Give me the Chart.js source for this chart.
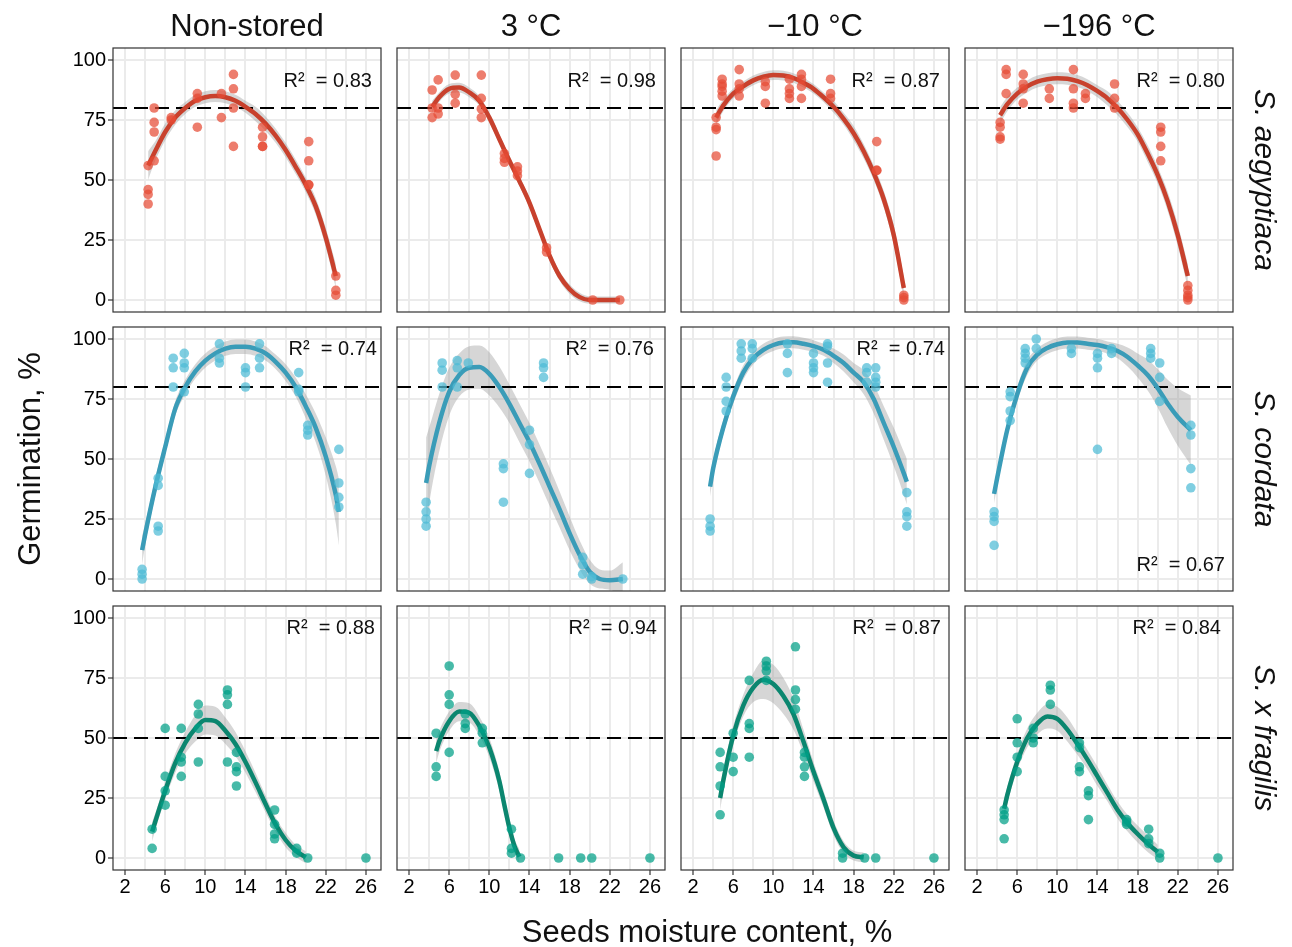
<!DOCTYPE html>
<html lang="en">
<head>
<meta charset="UTF-8" />
<title>Germination vs seed moisture content</title>
<script src="https://cdn.jsdelivr.net/npm/chart.js@4.4.1/dist/chart.umd.min.js"></script>
<style>
  body { margin: 0; background: #fff; }
  #figure { position: relative; width: 1292px; height: 947px; overflow: hidden;
            font-family: "Liberation Sans", Arial, sans-serif; color: #111; }
  #figure canvas { position: absolute; }
  .lbl { position: absolute; white-space: pre; line-height: 1; }
</style>
</head>
<body>
<div id="figure"></div>

<script>
// axes
const moistTicks = [2, 4, 6, 8, 10, 12, 14, 16, 18, 20, 22, 24, 26];
const moistLabels = [2, 6, 10, 14, 18, 22, 26];
const germTicks = [0, 25, 50, 75, 100];

const storages = ['Non-stored', '3 °C', '−10 °C', '−196 °C'];
const species = ['S. aegyptiaca', 'S. cordata', 'S. x fragilis'];
const thresholds = [80, 80, 50];

const r2Aeg = ['0.83', '0.98', '0.87', '0.80'];
const r2Cor = ['0.74', '0.76', '0.74', '0.67'];
const r2Fra = ['0.88', '0.94', '0.87', '0.84'];

// observations: [moisture %, germination %]
// fitted curves: [moisture %, lower CI, fit, upper CI]

// S. aegyptiaca
const aegNonPts = [[4.3,56],[4.3,46],[4.3,44],[4.3,40],[4.9,80],[4.9,74],[4.9,70],[4.9,58],[6.6,76],[6.6,75],
  [9.2,86],[9.2,84],[9.2,72],[11.6,86],[11.6,76],[12.8,94],[12.8,88],[12.8,80],[12.8,64],[15.7,72],[15.7,68],
  [15.7,64],[15.7,64],[20.3,66],[20.3,58],[20.3,48],[20.3,48],[23.0,10],[23.0,4],[23.0,2]];
const aegNonFit = [[4.3,50,56,62],[5,58,62,66],[6,66.5,70,73.5],[7,73,76,79],[8,77.5,80,82.5],[9,80.5,83,85.5],
  [10,82,84.5,87],[11,82.5,85,87.5],[12,82,84.5,87],[13,80.5,83,85.5],[14,78,80.5,83],[15,74.5,77.5,80.5],
  [16,70.5,73.5,76.5],[17,65.5,68.5,71.5],[18,59.5,62.5,65.5],[19,52.5,55.5,58.5],[20,45,48,51],
  [21,35.5,39,42.5],[22,22,26,30],[23,5,10,15]];

const aeg3Pts = [[4.3,87.5],[4.3,80],[4.3,76],[4.9,91.7],[4.9,80],[4.9,77.5],[6.6,93.7],[6.6,85.7],[6.6,82],
  [9.2,93.7],[9.2,84],[9.2,79.6],[9.2,76],[11.5,61],[11.5,59],[11.5,57.4],[12.8,55.5],[12.8,53.7],[12.8,51.8],
  [15.7,21.8],[15.7,20],[20.3,0],[23.0,0]];
const aeg3Fit = [[4.3,78,80.5,83],[5,82.5,84.5,86.5],[6,86,88,90],[7,86.5,88.5,90.5],[8,84.5,86.5,88.5],
  [9,81,83,85],[10,74,76,78],[11,65,67,69],[12,56,58,60],[13,47.5,49.5,51.5],[14,38.5,40.5,42.5],
  [15,27.5,29.5,31.5],[16,16.5,18.5,20.5],[17,8,10,12],[18,2.5,4.5,6.5],[19,-0.5,1.2,3],[20,-1.5,0,1.5],
  [21,-1.5,0,1.5],[22,-1.5,0,1.5],[23,-1.5,0,1.5]];

const aegM10Pts = [[4.3,76],[4.3,72],[4.3,71],[4.3,60],[4.9,92],[4.9,90],[4.9,89],[4.9,87],[4.9,85],[6.6,96],
  [6.6,90],[6.6,88],[6.6,85],[9.2,91],[9.2,89],[9.2,82],[11.6,92],[11.6,88],[11.6,86],[11.6,84],[12.8,94],
  [12.8,92],[12.8,89],[12.8,84],[15.7,92],[15.7,86],[15.7,84],[20.3,66],[20.3,54],[20.3,54],[23.0,2],
  [23.0,1],[23.0,0]];
const aegM10Fit = [[4.3,73,76,79],[5,78.5,81,83.5],[6,84,86,88],[7,87,89,91],[8,89.5,91.5,93.5],[9,91,93,95],
  [10,91.7,93.7,95.7],[11,91.5,93.5,95.5],[12,90.5,92.5,94.5],[13,88.5,90.5,92.5],[14,86,88,90],
  [15,82.5,84.5,86.5],[16,78,80.5,83],[17,73,75.5,78],[18,66.5,69.5,72.5],[19,59,62,65],[20,50,53,56],
  [21,38.5,42,45.5],[22,23,27,31],[23,0.5,5,9.5]];

const aegM196Pts = [[4.3,74],[4.3,72],[4.3,68],[4.3,67],[4.9,96],[4.9,94],[4.9,86],[6.6,94],[6.6,90],[6.6,88],
  [6.6,82],[9.2,88],[9.2,84],[11.6,96],[11.6,88],[11.6,82],[11.6,80],[12.8,86],[12.8,84],[15.7,90],[15.7,84],
  [15.7,80],[20.3,72],[20.3,70],[20.3,64],[20.3,58],[23.0,6],[23.0,4],[23.0,2],[23.0,1],[23.0,0]];
const aegM196Fit = [[4.3,73.5,77,80.5],[5,78.5,81.5,84.5],[6,83.5,86,88.5],[7,86.5,89,91.5],[8,88.5,91,93.5],
  [9,89.5,92,94.5],[10,89.9,92.4,94.9],[11,89.7,92.2,94.7],[12,88.7,91.2,93.7],[13,87,89.5,92],
  [14,84.5,87,89.5],[15,81,84,87],[16,77,80,83],[17,72,75,78],[18,66,69,72],[19,57.5,61,64.5],
  [20,48.5,52,55.5],[21,37,41,45],[22,22.5,27,31.5],[23,5,10,15]];

// S. cordata
const corNonPts = [[3.7,4],[3.7,2],[3.7,0],[5.3,42],[5.3,39],[5.3,22],[5.3,20],[6.8,92],[6.8,88],[6.8,80],
  [7.9,94],[7.9,90],[7.9,88],[7.9,78],[11.4,98],[11.4,92],[11.4,90],[14.0,88],[14.0,86],[14.0,80],[15.4,98],
  [15.4,92],[15.4,88],[19.3,86],[19.3,79],[19.3,78],[20.2,64],[20.2,62],[20.2,60],[23.3,54],[23.3,40],
  [23.3,34],[23.3,30]];
const corNonFit = [[3.7,6,12,18],[4,14,18.5,23],[5,34.5,38,41.5],[6,52,55,58],[7,68,71,74],[8,77,80,83],
  [9,83.5,86.5,89.5],[10,88,91,94],[11,91,94,97],[12,93,96,99],[13,93.8,96.8,99.8],[14,93.8,96.8,99.8],
  [15,93,96,99],[16,91,94,97],[17,87.5,90.5,93.5],[18,82.5,86,89.5],[19,76,80,84],[20,67,72,77],
  [21,57,63,69],[22,43,51,59],[23,23,35,47],[23.3,14,28,42]];

const cor3Pts = [[3.7,32],[3.7,28],[3.7,25],[3.7,22],[5.3,90],[5.3,87],[5.3,80],[6.8,91],[6.8,88],[6.8,80],
  [7.9,90],[11.4,48],[11.4,46],[11.4,32],[14.0,62],[14.0,56],[14.0,44],[15.4,90],[15.4,88],[15.4,84],
  [19.3,9],[19.3,6],[19.3,2],[20.2,1],[20.2,0],[23.3,0]];
const cor3Fit = [[3.7,21,40,59],[4,31,47,63],[5,53,65,77],[6,68,78,88],[7,76,85,94],[8,79,88,97],
  [9,79.3,88.3,97.3],[10,76.5,85.5,94.5],[11,71.5,80,88.5],[12,65,73,81],[13,57,65,73],[14,49,57,65],
  [15,40,48,56],[16,30.5,38.5,46.5],[17,21.5,29,36.5],[18,12,19,26],[19,4,10,16],[20,-2,3,8],
  [21,-4,0,4],[22,-4.5,-0.5,3.5],[23.3,-7,0,7]];

const corM10Pts = [[3.7,25],[3.7,22],[3.7,20],[5.3,84],[5.3,80],[5.3,74],[5.3,70],[6.8,98],[6.8,95],[6.8,92],
  [7.9,98],[7.9,96],[7.9,92],[11.4,98],[11.4,94],[11.4,86],[14.0,94],[14.0,90],[14.0,88],[14.0,86],
  [15.4,98],[15.4,97],[15.4,90],[15.4,82],[19.3,88],[19.3,86],[19.3,82],[20.2,88],[20.2,84],[20.2,82],
  [20.2,80],[23.3,36],[23.3,28],[23.3,26],[23.3,22]];
const corM10Fit = [[3.7,34.5,38.5,42.5],[4,42.5,46,49.5],[5,60,63,66],[6,73,76,79],[7,83,86,89],
  [8,89.5,92,94.5],[9,93,95.5,98],[10,95,97.5,100],[11,96,98.5,101],[12,96.1,98.6,101.1],[13,95.5,98,100.5],
  [14,94.5,97,99.5],[15,93,95.5,98],[16,90,93,96],[17,86.5,90,93.5],[18,82,86,90],[19,77,82,87],
  [20,69,75,81],[21,58,65,72],[22,47,55,63],[23,35,44,53],[23.3,31,40.5,50]];

const corM196Pts = [[3.7,28],[3.7,26],[3.7,24],[3.7,14],[5.3,78],[5.3,76],[5.3,70],[5.3,66],[6.8,96],[6.8,94],
  [6.8,92],[6.8,90],[7.9,100],[7.9,96],[11.4,96],[11.4,94],[14.0,94],[14.0,92],[14.0,88],[14.0,54],[15.4,96],
  [15.4,94],[19.3,96],[19.3,94],[19.3,92],[20.2,90],[20.2,84],[20.2,74],[23.3,64],[23.3,60],[23.3,46],
  [23.3,38]];
const corM196Fit = [[3.7,31.5,35.5,39.5],[4,38.5,42,45.5],[5,59,62,65],[6,74,77,80],[7,85,88,91],
  [8,91,93.5,96],[9,93.8,96.3,98.8],[10,95.3,97.8,100.3],[11,96,98.5,101],[12,96,98.5,101],
  [13,95.5,98,100.5],[14,95,97.5,100],[15,94,96.5,99],[16,92,95,98],[17,88.5,92.5,96.5],[18,84,89,94],
  [19,78.5,85,91.5],[20,71.5,79.5,87.5],[21,63,73,83],[22,55.5,67.5,79.5],[23.3,47.5,62,76.5]];

// S. x fragilis
const fraNonPts = [[4.7,12],[4.7,4],[6.0,54],[6.0,34],[6.0,28],[6.0,22],[7.6,54],[7.6,42],[7.6,40],[7.6,34],
  [9.3,64],[9.3,60],[9.3,54],[9.3,40],[12.2,70],[12.2,68],[12.2,64],[12.2,40],[13.1,44],[13.1,38],[13.1,36],
  [13.1,30],[16.9,20],[16.9,14],[16.9,10],[16.9,8],[19.1,4],[19.1,2],[20.2,0],[26.0,0]];
const fraNonFit = [[4.7,7,11,15],[5,11.5,15,18.5],[6,24.5,28,31.5],[7,35.5,39.5,43.5],[8,43.5,48,52.5],
  [9,48.5,54,59.5],[10,51.5,57.5,63.5],[11,51,57,63],[12,47.5,53,58.5],[13,42.5,47.5,52.5],
  [14,35.5,40,44.5],[15,27.5,31.5,35.5],[16,19,22.5,26],[17,11,14,17],[18,4.5,7.5,10.5],[19,0.5,3,5.5],
  [20,-2.2,0.3,2.8]];

const fra3Pts = [[4.7,52],[4.7,38],[4.7,34],[6.0,80],[6.0,68],[6.0,64],[6.0,44],[7.6,60],[7.6,56],[7.6,54],
  [9.3,54],[9.3,52],[9.3,48],[12.2,12],[12.2,4],[12.2,2],[13.1,0],[16.9,0],[19.1,0],[20.2,0],[26.0,0]];
const fra3Fit = [[4.7,39.5,44.5,49.5],[5,44,48.5,53],[6,53,57,61],[7,57,61,65],[8,56.5,60.5,64.5],
  [9,51,55,59],[10,42,46,50],[11,28,32,36],[11.5,18.5,22,25.5],[12,9,12.5,16],[12.5,2,5,8],
  [13,-2.5,0.5,3.5]];

const fraM10Pts = [[4.7,44],[4.7,38],[4.7,30],[4.7,18],[6.0,52],[6.0,42],[6.0,36],[7.6,74],[7.6,56],[7.6,54],
  [7.6,42],[9.3,82],[9.3,80],[9.3,78],[9.3,74],[12.2,88],[12.2,70],[12.2,66],[12.2,62],[13.1,44],[13.1,42],
  [13.1,38],[13.1,34],[16.9,2],[16.9,0],[19.1,0],[20.2,0],[26.0,0]];
const fraM10Fit = [[4.7,20,25,30],[5,27.5,32,36.5],[6,47,51,55],[7,59,63.5,68],[8,65,71,77],
  [9,66.3,74.3,82.3],[10,64.5,72.5,80.5],[11,60,67.5,75],[12,53.5,60,66.5],[13,43.5,48.5,53.5],
  [14,32,36,40],[15,21,24.5,28],[16,9.5,12.5,15.5],[17,2,4.5,7],[18,-1,1,3],[19,-1.7,0.3,2.3]];

const fraM196Pts = [[4.7,20],[4.7,18],[4.7,16],[4.7,8],[6.0,58],[6.0,48],[6.0,42],[6.0,36],[7.6,54],[7.6,50],
  [7.6,48],[9.3,72],[9.3,70],[9.3,64],[12.2,48],[12.2,46],[12.2,38],[12.2,36],[13.1,28],[13.1,26],[13.1,16],
  [16.9,16],[16.9,15],[16.9,14],[19.1,12],[19.1,8],[19.1,6],[20.2,2],[20.2,0],[26.0,0]];
const fraM196Fit = [[4.7,16.5,20.5,24.5],[5,22.5,26,29.5],[6,36.5,40,43.5],[7,46,50,54],[8,51.5,56,60.5],
  [9,54,59,64],[10,53,58,63],[11,48.5,53.5,58.5],[12,43,47.5,52],[13,37,41,45],[14,30,34,38],
  [15,23.5,27,30.5],[16,16.5,20,23.5],[17,11,14.5,18],[18,6.5,10,13.5],[19,2.5,6,9.5],[20,-0.5,2.5,5.5]];

const pointSets = [
  [aegNonPts, aeg3Pts, aegM10Pts, aegM196Pts],
  [corNonPts, cor3Pts, corM10Pts, corM196Pts],
  [fraNonPts, fra3Pts, fraM10Pts, fraM196Pts]
];
const fitSets = [
  [aegNonFit, aeg3Fit, aegM10Fit, aegM196Fit],
  [corNonFit, cor3Fit, corM10Fit, corM196Fit],
  [fraNonFit, fra3Fit, fraM10Fit, fraM196Fit]
];
const r2Sets = [r2Aeg, r2Cor, r2Fra];

// styling
const pointColors = ['rgba(230,75,53,0.72)', 'rgba(77,187,213,0.72)', 'rgba(0,160,135,0.72)'];
const lineColors = ['#C8412D', '#3A9CB8', '#0B866F'];
const font = '"Liberation Sans", Arial, sans-serif';

// panel geometry (pixels)
const plotLeft = [113, 397, 681, 965];
const plotTop = [48, 327, 606];
const plotW = 268, plotH = 264;
const pad = 14, yAxisW = 44, xAxisH = 34;
const xMin = 0.8, xMax = 27.5, yMin = -5, yMax = 105;

// R² label placement: distance from panel right edge, vertical centre from panel top
const r2Right = [[9, 9, 9, 8], [4, 11, 4, 8], [6, 8, 8, 12]];
const r2Mid = [[32, 32, 32, 32], [21, 21, 21, 237], [21, 21, 21, 21]];

const panelFrame = {
  id: 'panelFrame',
  afterDraw(chart) {
    const { ctx, chartArea: a } = chart;
    ctx.save();
    ctx.strokeStyle = '#333';
    ctx.lineWidth = 1.2;
    ctx.strokeRect(a.left, a.top, a.right - a.left, a.bottom - a.top);
    ctx.restore();
  }
};
Chart.register(panelFrame);

const fig = document.getElementById('figure');

function addLabel(text, css) {
  const d = document.createElement('div');
  d.className = 'lbl';
  d.textContent = text;
  Object.assign(d.style, css);
  fig.appendChild(d);
  return d;
}

function makePanel(row, col) {
  const firstCol = col === 0, lastRow = row === 2;
  const w = plotW + 2 * pad + (firstCol ? yAxisW : 0);
  const h = plotH + 2 * pad + (lastRow ? xAxisH : 0);
  const cv = document.createElement('canvas');
  cv.width = w;
  cv.height = h;
  cv.style.left = (plotLeft[col] - pad - (firstCol ? yAxisW : 0)) + 'px';
  cv.style.top = (plotTop[row] - pad) + 'px';
  cv.style.width = w + 'px';
  cv.style.height = h + 'px';
  fig.appendChild(cv);

  const pts = pointSets[row][col];
  const fit = fitSets[row][col];
  const ref = thresholds[row];

  new Chart(cv, {
    type: 'scatter',
    data: {
      datasets: [
        { type: 'line', data: fit.map(f => ({ x: f[0], y: f[1] })), borderWidth: 0, pointRadius: 0,
          cubicInterpolationMode: 'monotone', fill: false, order: 5 },
        { type: 'line', data: fit.map(f => ({ x: f[0], y: f[3] })), borderWidth: 0, pointRadius: 0,
          cubicInterpolationMode: 'monotone', fill: '-1', backgroundColor: 'rgba(153,153,153,0.4)', order: 4 },
        { type: 'line', data: [{ x: xMin, y: ref }, { x: xMax, y: ref }], borderColor: '#000', borderWidth: 2,
          borderDash: [14, 7], pointRadius: 0, fill: false, order: 3 },
        { type: 'line', data: fit.map(f => ({ x: f[0], y: f[2] })), borderColor: lineColors[row], borderWidth: 4.5,
          pointRadius: 0, cubicInterpolationMode: 'monotone', fill: false, borderCapStyle: 'butt', order: 2 },
        { type: 'scatter', data: pts.map(p => ({ x: p[0], y: p[1] })), backgroundColor: pointColors[row],
          borderWidth: 0, pointRadius: 4.8, order: 1 }
      ]
    },
    options: {
      responsive: false,
      animation: false,
      events: [],
      layout: { padding: pad },
      plugins: { legend: { display: false }, tooltip: { enabled: false } },
      scales: {
        x: {
          type: 'linear', min: xMin, max: xMax,
          afterBuildTicks: s => { s.ticks = moistTicks.map(v => ({ value: v })); },
          afterFit: s => { s.height = lastRow ? xAxisH : 0; },
          border: { display: false },
          grid: {
            color: '#EBEBEB', lineWidth: 2, drawTicks: lastRow, tickLength: 5, tickWidth: 1.2,
            tickColor: c => (c.tick && moistLabels.includes(c.tick.value)) ? '#333' : 'rgba(0,0,0,0)'
          },
          ticks: {
            display: lastRow, padding: 0, maxRotation: 0, autoSkip: false, color: '#000',
            font: { family: font, size: 20 },
            callback: v => moistLabels.includes(v) ? String(v) : ''
          }
        },
        y: {
          type: 'linear', min: yMin, max: yMax,
          afterBuildTicks: s => { s.ticks = germTicks.map(v => ({ value: v })); },
          afterFit: s => { s.width = firstCol ? yAxisW : 0; },
          border: { display: false },
          grid: { color: '#EBEBEB', lineWidth: 2, drawTicks: firstCol, tickLength: 5, tickWidth: 1.2, tickColor: '#333' },
          ticks: { display: firstCol, padding: 2, color: '#000', font: { family: font, size: 20 } }
        }
      }
    }
  });

  // R² annotation
  addLabel('R²  = ' + r2Sets[row][col], {
    fontSize: '20px',
    right: (1292 - (plotLeft[col] + plotW - r2Right[row][col])) + 'px',
    top: (plotTop[row] + r2Mid[row][col]) + 'px',
    transform: 'translateY(-50%)'
  });
}

for (let r = 0; r < 3; r++) {
  for (let c = 0; c < 4; c++) makePanel(r, c);
}

// facet strips
storages.forEach((s, c) => addLabel(s, {
  fontSize: '31px', left: (plotLeft[c] + plotW / 2) + 'px', top: '25px',
  transform: 'translate(-50%,-50%)'
}));
species.forEach((s, r) => addLabel(s, {
  fontSize: '30px', fontStyle: 'italic', left: '1265px', top: (plotTop[r] + plotH / 2) + 'px',
  transform: 'translate(-50%,-50%) rotate(90deg)'
}));

// axis titles
addLabel('Germination, %', {
  fontSize: '31px', left: '29px', top: (plotTop[1] + plotH / 2) + 'px',
  transform: 'translate(-50%,-50%) rotate(-90deg)'
});
addLabel('Seeds moisture content, %', {
  fontSize: '31px', left: '707px', top: '931px', transform: 'translate(-50%,-50%)'
});
</script>
</body>
</html>
